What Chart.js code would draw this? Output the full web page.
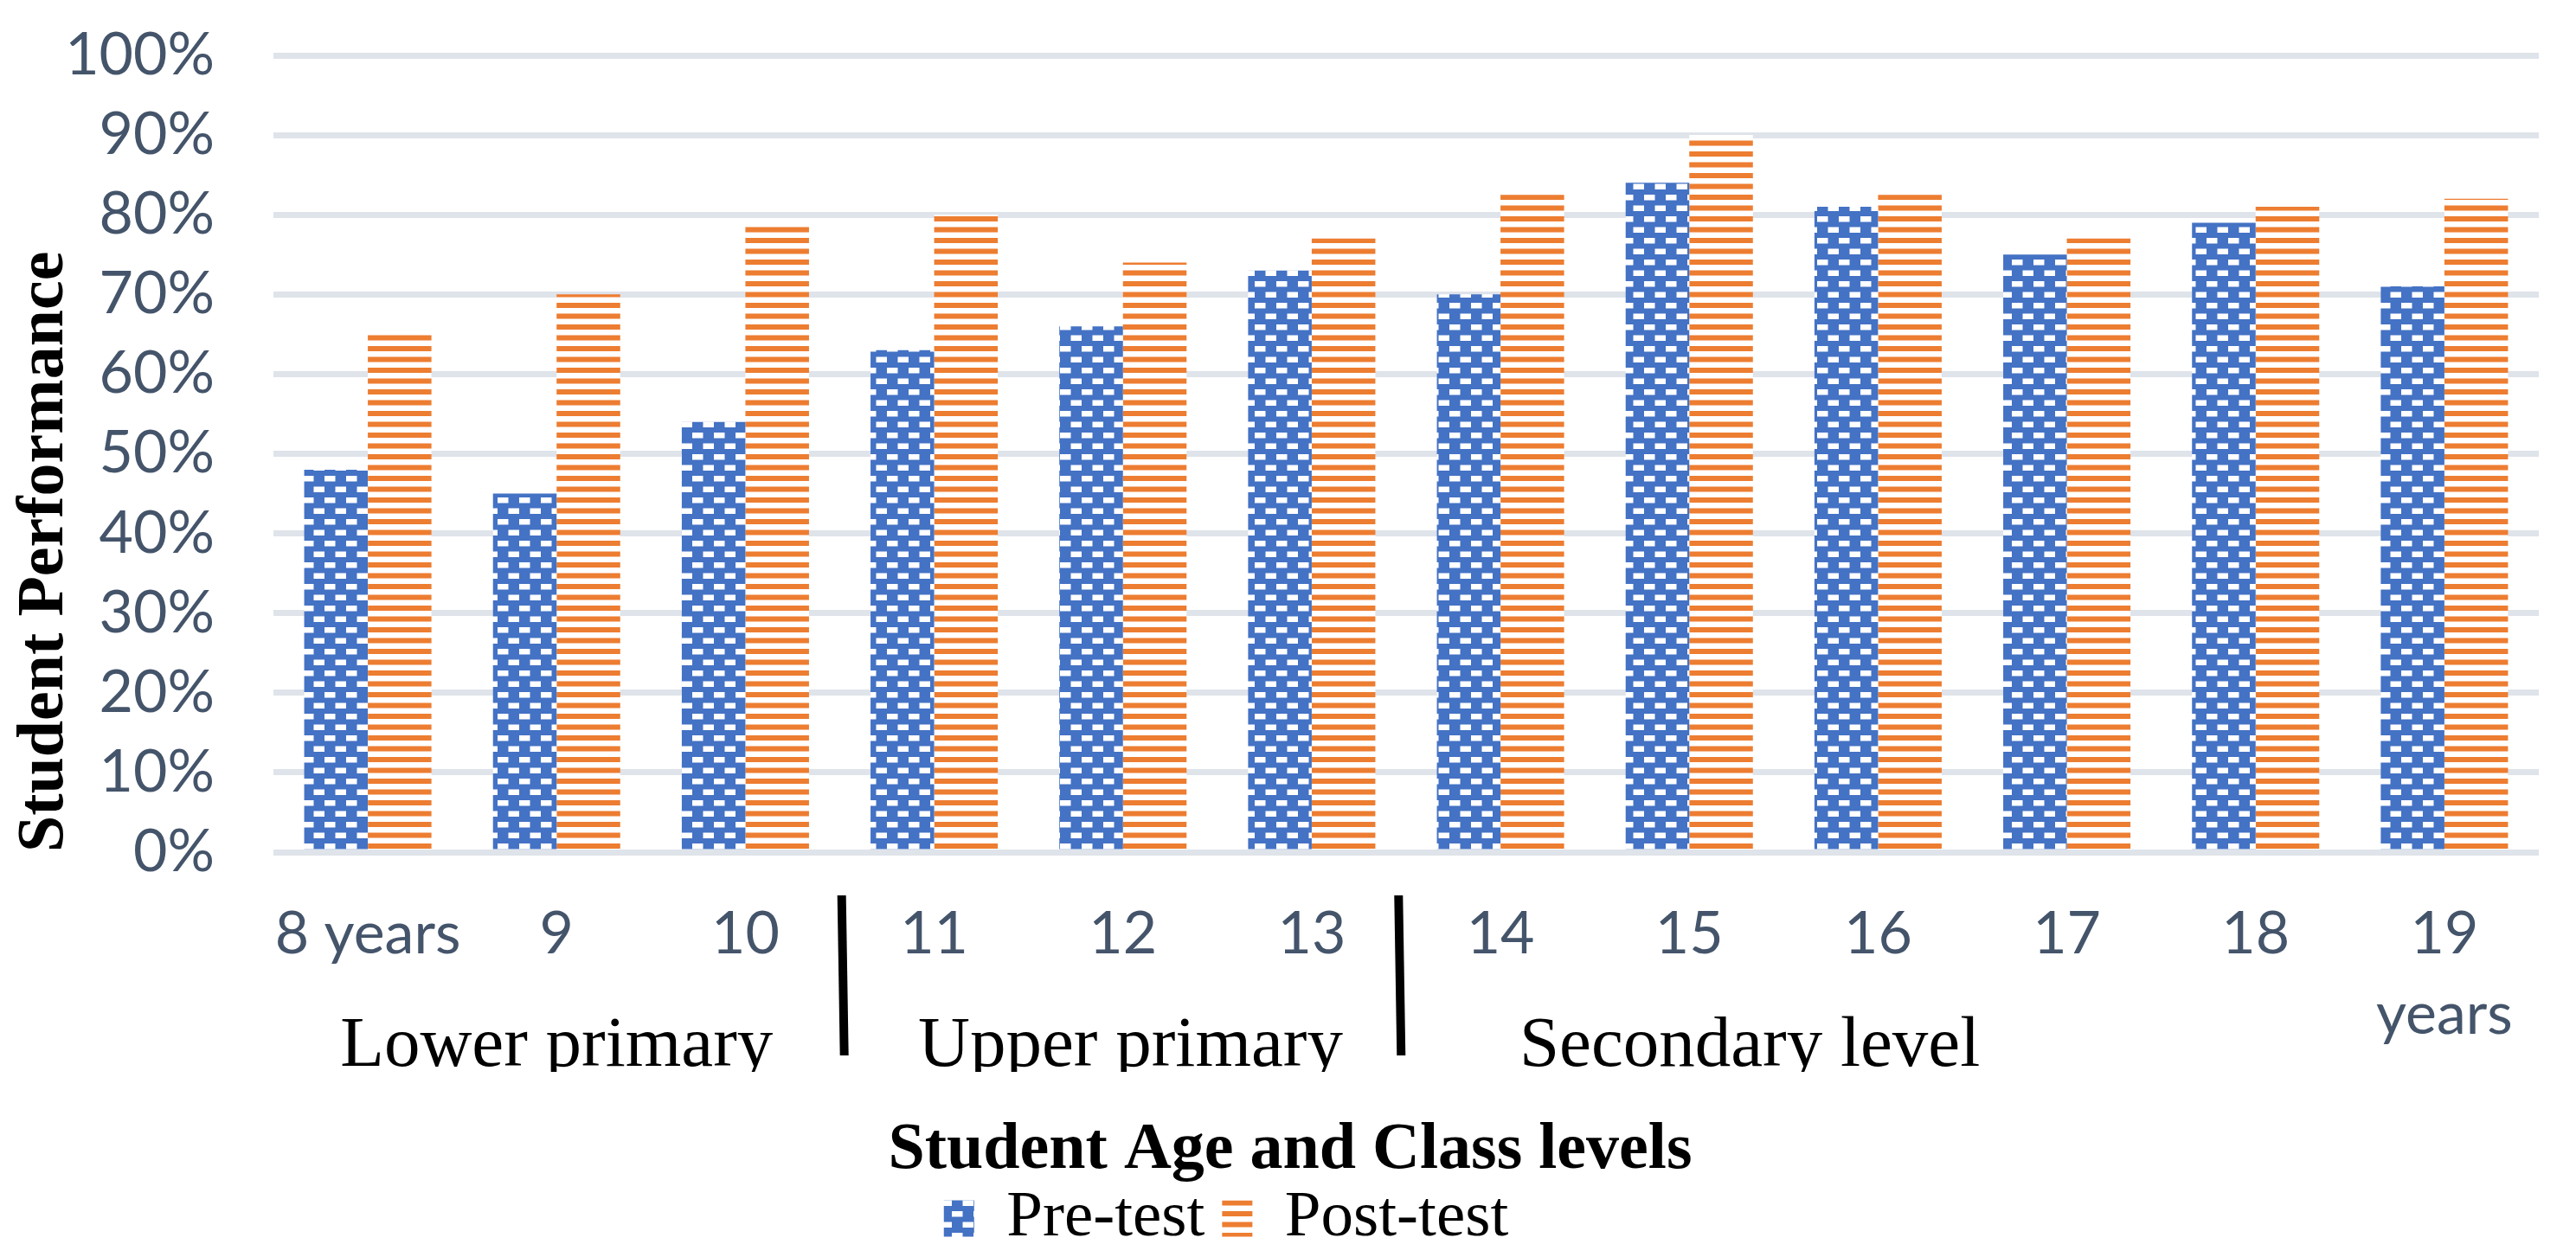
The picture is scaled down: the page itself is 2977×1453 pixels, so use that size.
<!DOCTYPE html>
<html>
<head>
<meta charset="utf-8">
<script src="https://cdn.jsdelivr.net/npm/chart.js@4.4.1/dist/chart.umd.min.js"></script>
<style>
  html, body { margin: 0; padding: 0; background: #fff; }
  #wrap { width: 2977px; height: 1453px; position: relative; }
</style>
</head>
<body>
<div id="wrap"><canvas id="chart"></canvas></div>
<script>
// data
var ageLabels = ['8 years', '9', '10', '11', '12', '13', '14', '15', '16', '17', '18', ['19', 'years']];
var preTest   = [48, 45, 54, 63, 66, 73, 70, 84, 81, 75, 79, 71];
var postTest  = [65, 70, 78.5, 80, 74, 77, 82.5, 90, 82.5, 77, 81, 82];
var seriesNames = ['Pre-test', 'Post-test'];
var levelNames  = ['Lower primary', 'Upper primary', 'Secondary level'];
var levelCenters = [1.0, 4.04, 7.32];  // category index where each level name sits
var levelBreaks  = [2.51, 5.46];       // category index of the black separators

var canvas = document.getElementById('chart');
var ctx = canvas.getContext('2d');

// blue bricks for pre-test
function brickPattern() {
  var t = document.createElement('canvas');
  t.width = 25; t.height = 25;
  var g = t.getContext('2d');
  g.fillStyle = '#4472C4';
  g.fillRect(0, 0, 25, 25);
  g.fillStyle = '#ffffff';
  g.fillRect(0, 0, 12.5, 6.5);
  g.fillRect(12.5, 12.5, 12.5, 6.5);
  return ctx.createPattern(t, 'repeat');
}

// orange horizontal stripes for post-test
function stripePattern() {
  var t = document.createElement('canvas');
  t.width = 25; t.height = 25;
  var g = t.getContext('2d');
  g.fillStyle = '#ffffff';
  g.fillRect(0, 0, 25, 25);
  g.fillStyle = '#ED7D31';
  g.fillRect(0, 0, 25, 6);
  g.fillRect(0, 12.5, 25, 6);
  return ctx.createPattern(t, 'repeat');
}

var levelPlugin = {
  id: 'levels',
  afterLayout: function(chart) {
    // nudge the bottom title and legend to where the original had them
    chart.titleBlock.left += 24;
    chart.titleBlock.right += 24;
    chart.legend.left -= 50;
    chart.legend.right -= 50;
  },
  afterDraw: function(chart) {
    var c = chart.ctx;
    var x = chart.scales.x;
    var base = chart.chartArea.bottom;

    c.save();
    c.beginPath();
    c.rect(0, 0, chart.width, base + 254);
    c.clip();
    c.fillStyle = '#000';
    c.font = '83px "Liberation Serif"';
    c.textAlign = 'center';
    c.textBaseline = 'alphabetic';
    levelNames.forEach(function(name, i) {
      c.fillText(name, x.getPixelForValue(levelCenters[i]), base + 247);
    });
    c.restore();

    c.save();
    c.strokeStyle = '#000';
    c.lineWidth = 10;
    levelBreaks.forEach(function(b) {
      var px = x.getPixelForValue(b);
      c.beginPath();
      c.moveTo(px, base + 50);
      c.lineTo(px + 3, base + 235);
      c.stroke();
    });
    c.restore();
  }
};

var myChart = new Chart(ctx, {
  type: 'bar',
  data: {
    labels: ageLabels,
    datasets: [{
      label: seriesNames[0],
      data: preTest,
      backgroundColor: brickPattern(),
      borderWidth: 0
    }, {
      label: seriesNames[1],
      data: postTest,
      backgroundColor: stripePattern(),
      borderWidth: 0
    }]
  },
  options: {
    responsive: true,
    maintainAspectRatio: false,
    devicePixelRatio: 1,
    animation: false,
    categoryPercentage: 0.674,
    barPercentage: 1.0,
    layout: { padding: { top: 64, right: 43, bottom: 0, left: 0 } },
    plugins: {
      tooltip: { enabled: false },
      title: {
        display: true,
        text: 'Student Age and Class levels',
        position: 'bottom',
        weight: 500,
        color: '#000',
        font: { family: 'Liberation Serif', size: 76, weight: 'bold', lineHeight: 1 },
        padding: { top: 70, bottom: -17 }
      },
      legend: {
        position: 'bottom',
        maxHeight: 102,
        labels: {
          boxWidth: 35,
          boxHeight: 42,
          padding: 20,
          color: '#000',
          font: { family: 'Liberation Serif', size: 75 }
        }
      }
    },
    scales: {
      x: {
        grid: { display: false, drawTicks: false },
        border: { display: false },
        ticks: {
          color: '#44546A',
          font: { family: 'Lato', size: 68, lineHeight: 1.37 },
          padding: 48,
          maxRotation: 0,
          autoSkip: false
        },
        afterFit: function(scale) { scale.height = 237; }
      },
      y: {
        min: 0,
        max: 100,
        grid: { color: '#DFE3EA', lineWidth: 7, drawTicks: false },
        border: { display: false },
        ticks: {
          stepSize: 10,
          autoSkip: false,
          color: '#44546A',
          font: { family: 'Lato', size: 68 },
          padding: 68,
          callback: function(v) { return v + '%'; }
        },
        title: {
          display: true,
          text: 'Student Performance',
          align: 'start',
          color: '#000',
          font: { family: 'Liberation Serif', size: 76, weight: 'bold' },
          padding: { top: 7, bottom: 0 }
        },
        afterFit: function(scale) {
          scale.width = 316;
          scale.paddingTop = 0;
          scale.paddingBottom = 0;
        }
      }
    }
  },
  plugins: [levelPlugin]
});
</script>
</body>
</html>
